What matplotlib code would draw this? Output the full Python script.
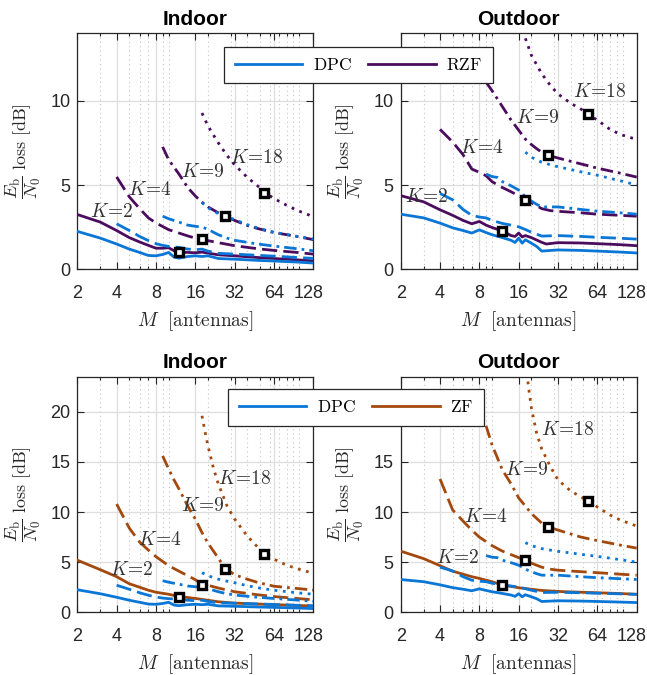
import matplotlib
matplotlib.use("Agg")
import matplotlib.pyplot as plt
import matplotlib.transforms as mtransforms
from matplotlib.lines import Line2D
from matplotlib.ticker import FixedLocator, NullFormatter

plt.rcParams["mathtext.fontset"] = "cm"
plt.rcParams["font.family"] = ["Liberation Sans", "DejaVu Sans"]

# ---------------------------------------------------------------- data
K_VALUES = [2, 4, 9, 18]
M_TICKS = [2, 4, 8, 16, 32, 64, 128]

# DPC, indoor (shared by both indoor panels)
dpc_in_k2_m = [2, 3, 4, 5, 6, 7, 8, 9, 10, 11, 12, 14, 16, 18, 20, 24, 32, 48, 64, 96, 128]
dpc_in_k2 = [2.25, 1.85, 1.5, 1.2, 1.0, 0.82, 0.8, 0.88, 1.0, 0.72, 0.66, 0.76, 0.8, 0.76, 0.8, 0.64, 0.6, 0.53, 0.49, 0.43, 0.37]
dpc_in_k4_m = [4, 5, 6, 7, 8, 9, 10, 12, 14, 16, 18, 20, 24, 32, 48, 64, 96, 128]
dpc_in_k4 = [2.7, 2.3, 1.95, 1.7, 1.52, 1.42, 1.36, 1.3, 1.2, 1.16, 1.2, 1.08, 0.95, 0.9, 0.83, 0.78, 0.7, 0.65]
dpc_in_k9_m = [9, 10, 12, 14, 16, 18, 20, 22, 24, 28, 32, 48, 64, 96, 128]
dpc_in_k9 = [3.15, 3.0, 2.8, 2.62, 2.55, 2.5, 2.38, 2.2, 2.05, 1.85, 1.72, 1.5, 1.38, 1.22, 1.1]
dpc_in_k18_m = [18, 20, 24, 28, 32, 40, 48, 64, 96, 128]
dpc_in_k18 = [3.95, 3.65, 3.3, 3.1, 2.95, 2.65, 2.45, 2.2, 1.95, 1.8]

# DPC, outdoor (shared by both outdoor panels)
dpc_out_k2_m = [2, 3, 4, 5, 6, 7, 8, 9, 10, 12, 14, 15, 16, 17, 18, 20, 22, 24, 32, 48, 64, 96, 128]
dpc_out_k2 = [3.27, 3.05, 2.74, 2.46, 2.3, 2.15, 2.34, 2.18, 2.05, 1.88, 1.72, 1.59, 1.85, 1.55, 1.75, 1.55, 1.35, 1.08, 1.15, 1.12, 1.08, 1.02, 0.97]
dpc_out_k4_m = [4, 5, 6, 7, 8, 9, 10, 12, 14, 16, 18, 20, 24, 32, 48, 64, 96, 128]
dpc_out_k4 = [4.5, 4.12, 3.55, 3.2, 3.1, 3.05, 2.9, 2.72, 2.62, 2.52, 2.36, 2.2, 1.97, 2.0, 1.95, 1.9, 1.84, 1.79]
dpc_out_k9_m = [9, 10, 11, 12, 14, 16, 18, 20, 22, 24, 32, 48, 64, 96, 128]
dpc_out_k9 = [5.65, 5.5, 5.45, 5.2, 4.95, 4.7, 4.3, 4.05, 3.85, 3.7, 3.7, 3.55, 3.45, 3.35, 3.27]
dpc_out_k18_m = [18, 20, 24, 28, 32, 40, 48, 64, 96, 128]
dpc_out_k18 = [6.95, 6.65, 6.35, 6.2, 6.08, 5.92, 5.78, 5.58, 5.25, 5.0]

# RZF, indoor
rzf_in_k2_m = [2, 3, 4, 5, 6, 7, 8, 9, 10, 11, 12, 14, 16, 18, 20, 24, 32, 48, 64, 96, 128]
rzf_in_k2 = [3.25, 2.8, 2.3, 1.88, 1.62, 1.42, 1.25, 1.25, 1.28, 1.1, 1.02, 1.0, 0.98, 1.02, 0.96, 0.86, 0.8, 0.7, 0.64, 0.56, 0.5]
rzf_in_k4_m = [4, 5, 6, 7, 8, 10, 12, 14, 16, 18, 20, 24, 32, 48, 64, 96, 128]
rzf_in_k4 = [5.48, 4.3, 3.6, 3.05, 2.75, 2.35, 2.15, 1.98, 1.85, 1.78, 1.7, 1.58, 1.4, 1.22, 1.12, 1.0, 0.9]
rzf_in_k9_m = [9, 10, 12, 14, 16, 18, 20, 24, 28, 32, 40, 48, 64, 96, 128]
rzf_in_k9 = [7.26, 6.5, 5.65, 4.85, 4.35, 3.98, 3.7, 3.35, 3.1, 2.9, 2.6, 2.42, 2.18, 1.95, 1.76]
rzf_in_k18_m = [18, 20, 24, 28, 32, 40, 48, 56, 64, 80, 96, 128]
rzf_in_k18 = [9.27, 8.5, 7.5, 6.75, 6.2, 5.45, 4.95, 4.5, 4.2, 3.8, 3.5, 3.12]

# RZF, outdoor
rzf_out_k2_m = [2, 3, 4, 5, 6, 7, 8, 9, 10, 12, 14, 15, 16, 17, 18, 20, 24, 26, 32, 48, 64, 96, 128]
rzf_out_k2 = [4.37, 4.0, 3.53, 3.2, 2.9, 2.7, 2.84, 2.62, 2.48, 2.27, 2.0, 1.95, 2.15, 1.92, 2.0, 1.88, 1.6, 1.5, 1.58, 1.56, 1.52, 1.46, 1.4]
rzf_out_k4_m = [4, 5, 6, 7, 8, 9, 10, 12, 14, 16, 18, 20, 24, 28, 32, 48, 64, 96, 128]
rzf_out_k4 = [8.3, 7.55, 6.8, 5.95, 5.75, 5.55, 5.2, 4.85, 4.6, 4.35, 4.12, 3.95, 3.6, 3.48, 3.44, 3.35, 3.27, 3.2, 3.15]
rzf_out_k9_m = [9, 10, 12, 14, 16, 18, 20, 22, 24, 27, 32, 48, 64, 96, 128]
rzf_out_k9 = [11.1, 10.6, 9.65, 8.85, 8.25, 7.72, 7.4, 7.15, 6.95, 6.76, 6.6, 6.25, 6.0, 5.7, 5.47]
rzf_out_k18_m = [18, 20, 24, 28, 32, 40, 48, 54, 64, 80, 96, 128]
rzf_out_k18 = [13.7, 12.7, 11.6, 10.9, 10.4, 9.85, 9.5, 9.21, 8.85, 8.3, 8.0, 7.7]

# ZF, indoor
zf_in_k2_m = [2, 3, 4, 5, 6, 7, 8, 10, 12, 16, 20, 24, 32, 48, 64, 96, 128]
zf_in_k2 = [5.2, 4.25, 3.55, 2.85, 2.5, 2.2, 2.0, 1.8, 1.58, 1.38, 1.2, 1.05, 0.92, 0.82, 0.77, 0.68, 0.63]
zf_in_k4_m = [4, 5, 6, 7, 8, 10, 12, 14, 16, 18, 20, 24, 32, 48, 64, 96, 128]
zf_in_k4 = [10.8, 8.4, 7.0, 6.2, 5.55, 4.65, 4.1, 3.65, 3.25, 2.8, 2.7, 2.42, 2.05, 1.75, 1.57, 1.38, 1.25]
zf_in_k9_m = [9, 10, 11, 12, 14, 16, 18, 20, 24, 27, 32, 40, 48, 64, 96, 128]
zf_in_k9 = [15.6, 14.3, 13.2, 12.3, 10.6, 9.3, 7.95, 6.9, 5.4, 4.4, 3.75, 3.3, 2.98, 2.6, 2.38, 2.22]
zf_in_k18_m = [18, 19, 20, 22, 24, 28, 32, 40, 48, 54, 64, 80, 96, 128]
zf_in_k18 = [19.6, 18.0, 16.6, 14.4, 12.8, 10.6, 9.3, 7.6, 6.5, 5.86, 5.3, 4.7, 4.35, 3.9]

# ZF, outdoor
zf_out_k2_m = [2, 3, 4, 5, 6, 7, 8, 10, 12, 14, 16, 20, 24, 32, 48, 64, 96, 128]
zf_out_k2 = [6.1, 5.35, 4.65, 4.1, 3.8, 3.55, 3.38, 3.05, 2.72, 2.58, 2.45, 2.3, 2.18, 2.08, 2.0, 1.95, 1.87, 1.8]
zf_out_k4_m = [4, 5, 6, 7, 8, 10, 12, 14, 16, 18, 20, 24, 28, 32, 48, 64, 96, 128]
zf_out_k4 = [13.3, 10.2, 9.1, 8.2, 7.5, 6.65, 6.1, 5.75, 5.45, 5.2, 4.9, 4.5, 4.3, 4.2, 4.05, 3.95, 3.8, 3.7]
zf_out_k9_m = [9, 10, 12, 14, 16, 18, 20, 24, 27, 32, 48, 64, 96, 128]
zf_out_k9 = [18.6, 16.7, 14.2, 12.8, 11.4, 10.6, 9.85, 8.9, 8.5, 8.2, 7.5, 7.15, 6.7, 6.4]
zf_out_k18_m = [18, 19, 20, 22, 24, 28, 32, 40, 48, 54, 64, 80, 96, 128]
zf_out_k18 = [25.5, 22.5, 20.4, 17.8, 16.3, 14.5, 13.2, 12.1, 11.5, 11.13, 10.5, 9.7, 9.2, 8.6]

# highlighted operating points (one per K)
mark_m = [12, 18, 27, 54]
mark_rzf_in = [1.0, 1.79, 3.15, 4.53]
mark_rzf_out = [2.28, 4.12, 6.76, 9.21]
mark_zf_in = [1.56, 2.73, 4.36, 5.86]
mark_zf_out = [2.7, 5.23, 8.5, 11.13]

# ---------------------------------------------------------------- style
C_DPC = "#0a76d6"
C_RZF = "#4b0c5e"
C_ZF = "#a3490d"
TXT = "#262626"
LW = 2.0
STYLES = {
    2: "-",
    4: (0, (5.5, 2.2)),
    9: (0, (4.5, 1.8, 1.0, 1.8)),
    18: (0, (1.0, 2.0)),
}

dpc_in = {2: (dpc_in_k2_m, dpc_in_k2), 4: (dpc_in_k4_m, dpc_in_k4),
          9: (dpc_in_k9_m, dpc_in_k9), 18: (dpc_in_k18_m, dpc_in_k18)}
dpc_out = {2: (dpc_out_k2_m, dpc_out_k2), 4: (dpc_out_k4_m, dpc_out_k4),
           9: (dpc_out_k9_m, dpc_out_k9), 18: (dpc_out_k18_m, dpc_out_k18)}
rzf_in = {2: (rzf_in_k2_m, rzf_in_k2), 4: (rzf_in_k4_m, rzf_in_k4),
          9: (rzf_in_k9_m, rzf_in_k9), 18: (rzf_in_k18_m, rzf_in_k18)}
rzf_out = {2: (rzf_out_k2_m, rzf_out_k2), 4: (rzf_out_k4_m, rzf_out_k4),
           9: (rzf_out_k9_m, rzf_out_k9), 18: (rzf_out_k18_m, rzf_out_k18)}
zf_in = {2: (zf_in_k2_m, zf_in_k2), 4: (zf_in_k4_m, zf_in_k4),
         9: (zf_in_k9_m, zf_in_k9), 18: (zf_in_k18_m, zf_in_k18)}
zf_out = {2: (zf_out_k2_m, zf_out_k2), 4: (zf_out_k4_m, zf_out_k4),
          9: (zf_out_k9_m, zf_out_k9), 18: (zf_out_k18_m, zf_out_k18)}

# K-label anchors (data coordinates) per panel
lab_rzf_in = [(3.68, 3.39), (7.2, 4.69), (18.2, 5.8), (47, 6.6)]
lab_rzf_out = [(3.17, 4.28), (8.4, 7.17), (22.3, 9.0), (67, 10.5)]
lab_zf_in = [(5.24, 4.23), (8.6, 7.23), (18.2, 10.63), (38.3, 13.33)]
lab_zf_out = [(5.47, 5.43), (9.0, 9.53), (18.4, 14.23), (38.1, 18.23)]

W, H = 647, 675
fig = plt.figure(figsize=(W / 100, H / 100), dpi=100)


def px_axes(left, top, right, bottom):
    return fig.add_axes([left / W, 1 - bottom / H, (right - left) / W, (bottom - top) / H])


def panel(ax, title, dpc, prec, pcolor, marks, labels, ymax, yticks):
    for k in K_VALUES:
        m, v = prec[k]
        ax.plot(m, v, color=pcolor, lw=LW, ls=STYLES[k], zorder=3)
    for k in K_VALUES:
        m, v = dpc[k]
        ax.plot(m, v, color=C_DPC, lw=LW, ls=STYLES[k], zorder=4)
    ax.plot(mark_m, marks, ls="none", marker="s", ms=6.4, mfc="white",
            mec="black", mew=2.4, zorder=6)
    for k, (lx, ly) in zip(K_VALUES, labels):
        ax.text(lx, ly, r"$K\!=\!%d$" % k, ha="center", va="center",
                fontsize=14, color="#333333", zorder=5)

    ax.set_xscale("log", base=2)
    ax.set_xlim(2, 128)
    ax.set_ylim(0, ymax)
    ax.xaxis.set_major_locator(FixedLocator(M_TICKS))
    ax.set_xticklabels([str(t) for t in M_TICKS])
    ax.xaxis.set_minor_locator(FixedLocator([3, 5, 6, 7, 9, 10, 20, 30, 40, 50,
                                             60, 70, 80, 90, 100]))
    ax.xaxis.set_minor_formatter(NullFormatter())
    ax.set_yticks(yticks)
    ax.grid(True, which="major", color="#dedede", lw=0.9, zorder=0)
    ax.grid(True, which="minor", axis="x", color="#c4c4c4", lw=0.8,
            ls=(0, (1, 3)), zorder=0)
    ax.set_axisbelow(True)
    ax.tick_params(which="both", direction="in", top=True, right=True,
                   colors=TXT, labelsize=13, width=0.8)
    ax.tick_params(axis="x", which="major", length=5, pad=11)
    ax.tick_params(axis="x", which="minor", length=2.5)
    ax.tick_params(axis="y", which="major", length=5, pad=5)
    # nudge the last x tick label inward, as the box edge sits on it
    last = ax.xaxis.get_major_ticks()[-1].label1
    last.set_transform(last.get_transform() +
                       mtransforms.ScaledTranslation(-0.05, 0, fig.dpi_scale_trans))
    for s in ax.spines.values():
        s.set_color(TXT)
        s.set_linewidth(0.9)
    ax.set_title(title, fontsize=15, fontweight="bold", color="black", pad=6)
    ax.set_xlabel(r"$M\ \ [\mathrm{antennas}]$", fontsize=14, color=TXT)
    ax.set_ylabel(r"$\dfrac{E_{\mathrm{b}}}{N_0}\ \mathrm{loss}\ [\mathrm{dB}]$",
                  fontsize=13, color=TXT)
    ax.xaxis.set_label_coords(0.5, -0.17)
    ax.yaxis.set_label_coords(-0.145, 0.5)


ax_tl = px_axes(77.3, 33.3, 313.3, 269.3)
ax_tr = px_axes(400.7, 33.3, 636.7, 269.3)
ax_bl = px_axes(77.3, 376.7, 313.3, 612.3)
ax_br = px_axes(400.7, 376.7, 636.7, 612.3)

panel(ax_tl, "Indoor", dpc_in, rzf_in, C_RZF, mark_rzf_in, lab_rzf_in, 14, [0, 5, 10])
panel(ax_tr, "Outdoor", dpc_out, rzf_out, C_RZF, mark_rzf_out, lab_rzf_out, 14, [0, 5, 10])
panel(ax_bl, "Indoor", dpc_in, zf_in, C_ZF, mark_zf_in, lab_zf_in, 23.5, [0, 5, 10, 15, 20])
panel(ax_br, "Outdoor", dpc_out, zf_out, C_ZF, mark_zf_out, lab_zf_out, 23.5, [0, 5, 10, 15, 20])


def legend(label2, color2, cx, cy):
    handles = [Line2D([], [], color=C_DPC, lw=LW), Line2D([], [], color=color2, lw=LW)]
    lg = fig.legend(handles, [r"$\mathrm{DPC}$", r"$\mathrm{%s}$" % label2],
                    loc="center", bbox_to_anchor=(cx / W, 1 - cy / H), ncol=2,
                    fontsize=12.5, handlelength=3.9, handletextpad=0.6,
                    columnspacing=0.95, borderpad=0.6, fancybox=False,
                    framealpha=1.0, edgecolor=TXT)
    lg.get_frame().set_linewidth(0.9)
    return lg


legend("RZF", C_RZF, 358.5, 65)
legend("ZF", C_ZF, 356, 407.5)

fig.savefig("out.png", dpi=100)
